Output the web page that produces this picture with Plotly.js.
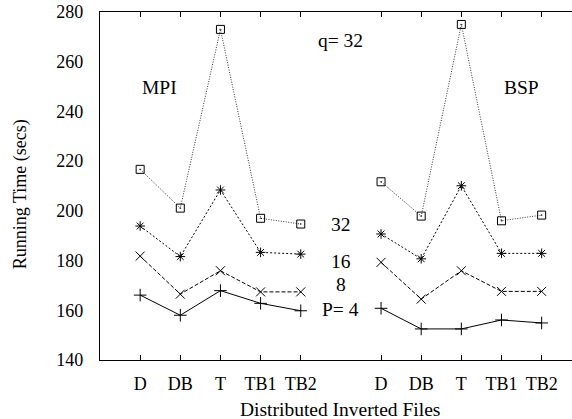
<!DOCTYPE html>
<html>
<head>
<meta charset="utf-8">
<script src="https://cdn.plot.ly/plotly-3.0.1.min.js"></script>
<style>html,body{margin:0;padding:0;background:#fff;}#chart{width:572px;height:419px;}</style>
</head>
<body>
<div id="chart"></div>
<script>
// Categories (distributed inverted file schemes), shown for two systems
const categories = ["D", "DB", "T", "TB1", "TB2"];
const groups = ["MPI", "BSP"];
const procLabels = ["P= 4", "8", "16", "32"];

// Running time (secs), q = 32
const mpi_p4  = [166.1, 158.0, 167.9, 162.8, 159.8];
const mpi_p8  = [181.8, 166.5, 175.9, 167.4, 167.4];
const mpi_p16 = [193.9, 181.6, 208.4, 183.3, 182.6];
const mpi_p32 = [216.7, 201.1, 273.0, 197.0, 194.7];

const bsp_p4  = [160.8, 152.5, 152.5, 156.1, 154.9];
const bsp_p8  = [179.3, 164.5, 175.9, 167.6, 167.6];
const bsp_p16 = [190.7, 180.7, 210.1, 182.9, 182.9];
const bsp_p32 = [211.7, 197.9, 275.0, 196.0, 198.3];

const series = [
  {mpi: mpi_p4,  bsp: bsp_p4,  dash: "solid",       symbol: "cross-thin-open",    size: 9, color: "#000"},
  {mpi: mpi_p8,  bsp: bsp_p8,  dash: "4px,2px",     symbol: "x-thin-open",        size: 9, color: "#000"},
  {mpi: mpi_p16, bsp: bsp_p16, dash: "2px,2px",     symbol: "asterisk-open",      size: 8, color: "#000"},
  {mpi: mpi_p32, bsp: bsp_p32, dash: "1px,1.5px",   symbol: "square-open-dot",    size: 8, color: "#333"}
];

// x positions: group g, category i -> g*(n+1) + i + 1
const n = categories.length;
const pos = (g, i) => g * (n + 1) + i + 1;

const traces = [];
series.forEach(s => {
  [s.mpi, s.bsp].forEach((vals, g) => {
    traces.push({
      x: categories.map((c, i) => pos(g, i)),
      y: vals,
      mode: "lines+markers",
      line: {color: s.color, width: 1, dash: s.dash},
      marker: {symbol: s.symbol, size: s.size, color: "#000", line: {color: "#000", width: 1}},
      showlegend: false,
      hoverinfo: "x+y"
    });
  });
});

const tickvals = [];
const ticktext = [];
groups.forEach((gname, g) => categories.forEach((c, i) => { tickvals.push(pos(g, i)); ticktext.push(c); }));

const fam = "'Liberation Serif', 'DejaVu Serif', serif";
const font = {family: fam, size: 18, color: "#000"};
const bigFont = {family: fam, size: 19.5, color: "#000"};
const yTitleFont = {family: fam, size: 18, color: "#000"};

const layout = {
  width: 572, height: 419,
  margin: {l: 100, r: 0, t: 12, b: 59},
  paper_bgcolor: "#fff", plot_bgcolor: "#fff",
  font: font,
  showlegend: false,
  xaxis: {
    range: [0, 11.756],
    tickvals: tickvals, ticktext: ticktext,
    ticks: "inside", ticklen: 5, tickwidth: 1, tickcolor: "#000",
    showline: true, linecolor: "#000", linewidth: 1.2, mirror: "ticks",
    showgrid: false, zeroline: false,
    tickfont: font, ticklabelstandoff: 7
  },
  yaxis: {
    range: [140, 280],
    tickvals: [140, 160, 180, 200, 220, 240, 260, 280],
    ticks: "", showline: true, linecolor: "#000", linewidth: 1.2,
    showgrid: false, zeroline: false,
    tickfont: font, ticklabelstandoff: 12
  },
  annotations: [
    {text: "Distributed Inverted Files", xref: "paper", yref: "paper", x: 0.508, y: -0.141, showarrow: false, font: bigFont, xanchor: "center", yanchor: "middle"},
    {text: "Running Time (secs)", xref: "paper", yref: "paper", x: -0.169, y: 0.477, textangle: -90, showarrow: false, font: yTitleFont, xanchor: "center", yanchor: "middle"},
    {text: groups[0], xref: "x", yref: "y", x: 1.49, y: 249.8, showarrow: false, font: bigFont},
    {text: groups[1], xref: "x", yref: "y", x: 10.49, y: 249.8, showarrow: false, font: bigFont},
    {text: "q= 32", xref: "x", yref: "y", x: 5.98, y: 268.6, showarrow: false, font: bigFont},
    {text: procLabels[3], xref: "x", yref: "y", x: 6.0, y: 194.4, showarrow: false, font: bigFont},
    {text: procLabels[2], xref: "x", yref: "y", x: 6.0, y: 179.6, showarrow: false, font: bigFont},
    {text: procLabels[1], xref: "x", yref: "y", x: 6.0, y: 170.2, showarrow: false, font: bigFont},
    {text: procLabels[0], xref: "x", yref: "y", x: 6.0, y: 160.3, showarrow: false, font: bigFont}
  ]
};

Plotly.newPlot("chart", traces, layout, {staticPlot: true, displayModeBar: false});
</script>
</body>
</html>
